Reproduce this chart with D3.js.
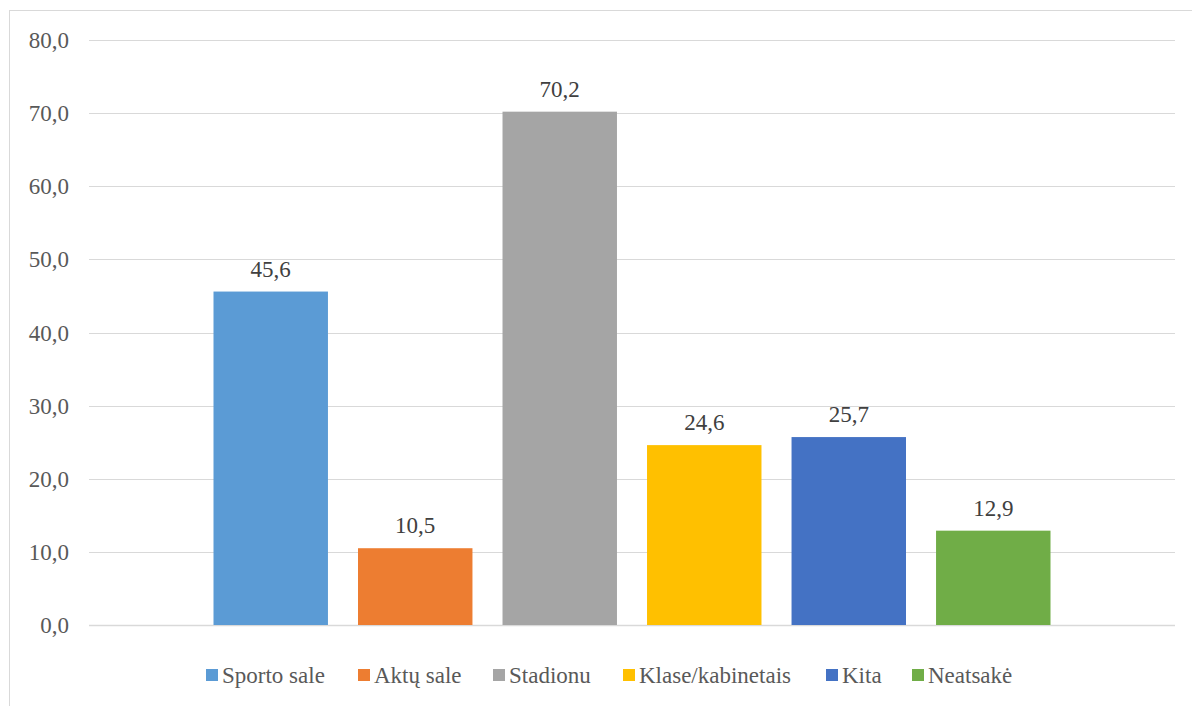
<!DOCTYPE html>
<html><head><meta charset="utf-8">
<script src="https://cdn.jsdelivr.net/npm/d3@7"></script>
<style>body{margin:0;background:#fff}svg{display:block}
svg text, text, .t{font-family:"Liberation Serif","Times New Roman",Tinos,serif !important;font-size:23px}</style>
</head><body>
<svg id="c" width="1192" height="706" font-family="Liberation Serif"></svg>
<script>
const categories = ["Sporto sale","Aktų sale","Stadionu","Klase/kabinetais","Kita","Neatsakė"];
const values = [45.6,10.5,70.2,24.6,25.7,12.9];
const colors = ["#5B9BD5","#ED7D31","#A5A5A5","#FFC000","#4472C4","#70AD47"];
const yTicks = [0,10,20,30,40,50,60,70,80];
const legendX = [206,358,493,623,826,912];

const TXT = "font-family:'Liberation Serif','Times New Roman',serif !important;font-size:23px";
const svg = d3.select("#c");
svg.append("rect").attr("x",9.5).attr("y",10.5).attr("width",1200).attr("height",720)
  .attr("fill","#fff").attr("stroke","#d9d9d9").attr("stroke-width",1);

const L=89,R=1175,T=40,B=625;
const y = d3.scaleLinear().domain([0,80]).range([B,T]);
const outer = 124.5;
const x = d3.scaleBand().domain(categories).range([L+outer,R-outer]).paddingInner(0.208).paddingOuter(0);

svg.append("g").selectAll("line").data(yTicks).join("line")
  .attr("x1",L).attr("x2",R).attr("y1",d=>Math.round(y(d))+0.5).attr("y2",d=>Math.round(y(d))+0.5)
  .attr("stroke","#d9d9d9").attr("stroke-width",d=>d===0?1.5:1);

svg.append("g").selectAll("text").data(yTicks).join("text")
  .attr("class","t").attr("style",TXT)
  .attr("x",69).attr("y",d=>y(d)).attr("dy","0.35em").attr("text-anchor","end")
  .attr("fill","#595959")
  .text(d=>d.toFixed(1).replace(".",","));

svg.append("g").selectAll("rect").data(categories).join("rect")
  .attr("x",d=>x(d)).attr("width",x.bandwidth())
  .attr("y",(d,i)=>y(values[i])).attr("height",(d,i)=>y(0)-y(values[i]))
  .attr("fill",(d,i)=>colors[i]);

svg.append("g").selectAll("text").data(categories).join("text")
  .attr("class","t").attr("style",TXT)
  .attr("x",d=>x(d)+x.bandwidth()/2).attr("y",(d,i)=>y(values[i])-15)
  .attr("text-anchor","middle").attr("fill","#404040")
  .text((d,i)=>values[i].toFixed(1).replace(".",","));

const lg = svg.append("g").selectAll("g").data(categories).join("g")
  .attr("transform",(d,i)=>`translate(${legendX[i]},0)`);
lg.append("rect").attr("x",0).attr("y",669).attr("width",12).attr("height",12).attr("fill",(d,i)=>colors[i]);
lg.append("text").attr("class","t").attr("style",TXT).attr("x",16).attr("y",683).attr("fill","#595959").text(d=>d);
</script>
</body></html>
